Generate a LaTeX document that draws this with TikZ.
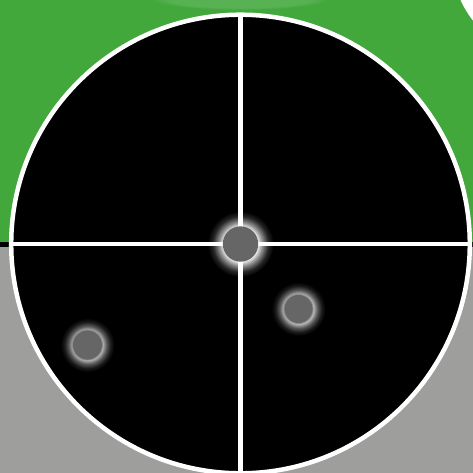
\documentclass[tikz,border=0pt]{standalone}
\usetikzlibrary{fadings}
\definecolor{bggreen}{RGB}{66,168,60}
\definecolor{bggray}{RGB}{158,158,156}
\definecolor{dotgray}{RGB}{102,102,102}
\definecolor{rimgray}{RGB}{140,140,140}
\pgfdeclareradialshading{glowA}{\pgfpoint{0bp}{0bp}}{color(0bp)=(white); color(13.4bp)=(white!90!black); color(16.5bp)=(white!55!black); color(21bp)=(white!15!black); color(25bp)=(black); color(50bp)=(black)}
\pgfdeclareradialshading{glowB}{\pgfpoint{0bp}{0bp}}{color(0bp)=(white!75!black); color(14bp)=(white!70!black); color(17.5bp)=(white!35!black); color(21.5bp)=(white!10!black); color(25bp)=(black); color(50bp)=(black)}
\tikzset{
  ring/.style={draw=white, line width=4.5pt},
  crossline/.style={draw=white, line width=4.5pt},
  dotfill/.style={fill=dotgray},
  smalldot/.style={fill=dotgray, draw=rimgray, line width=0.8pt},
}
\begin{document}
\begin{tikzpicture}[x=1pt,y=-1pt]
\useasboundingbox (0,0) rectangle (473,473);
% background
\fill[bggreen] (0,0) rectangle (473,242);
\fill[bggray] (0,246) rectangle (473,473);
\fill[black] (0,242) rectangle (473,246.5);
% top-right white disc
\fill[white] (550,-40) circle (98);
% faint glow at top
\fill[white, opacity=0.12, path fading=circle with fuzzy edge 20 percent] (240,-2) ellipse (90 and 12);
% main dial
\coordinate (c) at (240.5,244);
\fill[black] (c) circle (229.3);
\shade[shading=glowA] (c) circle (33);
\shade[shading=glowB] (298.5,309) circle (27);
\shade[shading=glowB] (87.5,345) circle (27);
\draw[crossline] (240.5,14.7) -- (240.5,473.3);
\draw[crossline] (11.2,244) -- (469.8,244);
\draw[ring] (c) circle (229.3);
% dots
\fill[dotfill] (c) circle (17.7);
\filldraw[smalldot] (298.5,309) circle (14.5);
\filldraw[smalldot] (87.5,345) circle (15);
\end{tikzpicture}
\end{document}
